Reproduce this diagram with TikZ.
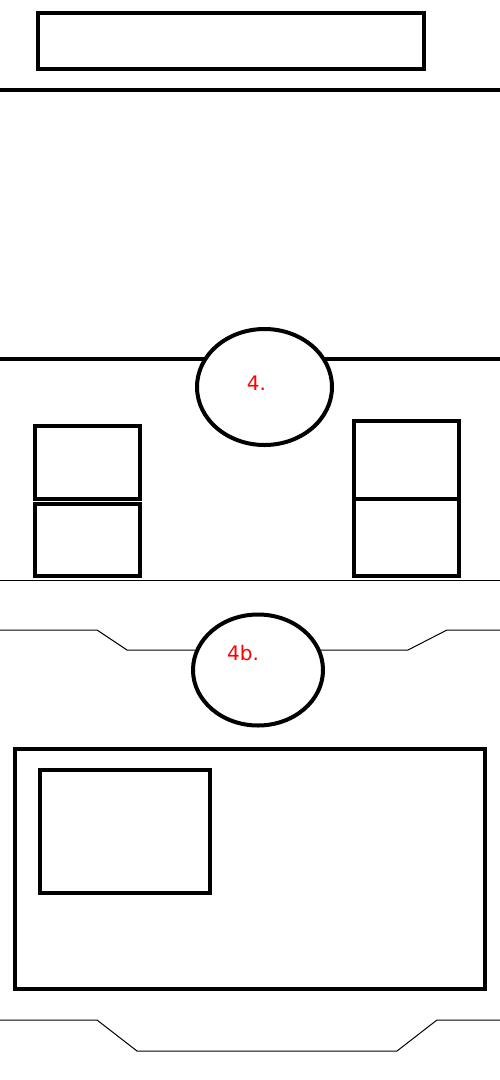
\documentclass[tikz,border=0pt]{standalone}
\usepackage{fontspec}
\newfontfamily\tagfont{DejaVu Sans}
\usetikzlibrary{shapes.geometric}
\tikzset{
  wall/.style={line width=4pt},
  thinwall/.style={line width=1pt},
  box/.style={draw, line width=4pt},
  room/.style={ellipse, draw, fill=white, line width=4pt, inner sep=0pt},
  tag/.style={text=red, font=\tagfont\fontsize{20}{24}\selectfont, inner sep=0pt}
}
\begin{document}
\begin{tikzpicture}[x=1pt, y=-1pt]
  \useasboundingbox (0,0) rectangle (500,1080);
  \draw[box] (38,13) rectangle (424,69);
  \draw[wall] (0,90) -- (500,90);
  \draw[wall] (0,359) -- (500,359);
  \node[room, minimum width=135pt, minimum height=116pt] (room4) at (264.5,387) {};
  \node[tag] (tag4) at (256.5,383) {4.};
  % cabinets
  \draw[box] (35,426) rectangle (140,499);
  \draw[box] (35,504) rectangle (140,576);
  \draw[box] (354,421) rectangle (459,576);
  \draw[box] (354,499) -- (459,499);
  \draw[thinwall] (0,580) -- (500,580);
  \draw[thinwall] (0,630) -- (97,630) -- (127,650) -- (408,650) -- (447,630) -- (500,630);
  \node[room, minimum width=130pt, minimum height=111pt] (room4b) at (258,670) {};
  \node[tag] (tag4b) at (243,653) {4b.};
  % lower room
  \draw[box] (15,749) rectangle (485,989);
  \draw[box] (40,770) rectangle (210,893);
  \draw[thinwall] (0,1020) -- (97,1020) -- (137,1051) -- (397,1051) -- (437,1020) -- (500,1020);
\end{tikzpicture}
\end{document}
